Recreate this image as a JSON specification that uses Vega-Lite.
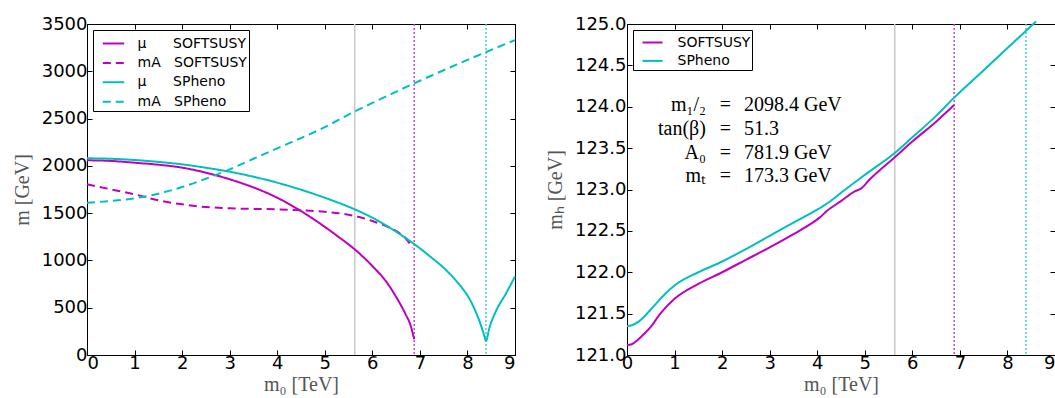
{
  "$schema": "https://vega.github.io/schema/vega-lite/v6.json",
  "padding": {"left": 11, "top": 14, "right": 1, "bottom": 0},
  "background": "white",
  "spacing": 24,
  "config": {
    "view": {"stroke": "black", "strokeWidth": 1},
    "axis": {
      "labelFont": "DejaVu Sans", "labelFontSize": 18, "labelColor": "black",
      "tickColor": "black", "tickSize": -5, "domain": false, "grid": false,
      "titleFont": "Liberation Serif", "titleFontSize": 20, "titleColor": "#555555",
      "titleFontWeight": "normal"
    },
    "line": {"interpolate": "monotone", "strokeWidth": 2, "clip": true},
    "legend": {
      "orient": "top-left", "offset": 6, "title": null, "fillColor": "white",
      "strokeColor": "black", "padding": 1.5, "cornerRadius": 0,
      "labelFont": "DejaVu Sans", "labelFontSize": 14, "labelColor": "black",
      "symbolType": "stroke", "symbolStrokeWidth": 2, "symbolOffset": 7,
      "rowPadding": 0.4
    }
  },
  "datasets": {
    "left": [
      {"m0": 0, "m": 2059, "s": "μ\u00a0\u00a0\u00a0\u00a0\u00a0\u00a0SOFTSUSY\u00a0"},
      {"m0": 0.5, "m": 2052, "s": "μ\u00a0\u00a0\u00a0\u00a0\u00a0\u00a0SOFTSUSY\u00a0"},
      {"m0": 1, "m": 2033, "s": "μ\u00a0\u00a0\u00a0\u00a0\u00a0\u00a0SOFTSUSY\u00a0"},
      {"m0": 1.5, "m": 2012, "s": "μ\u00a0\u00a0\u00a0\u00a0\u00a0\u00a0SOFTSUSY\u00a0"},
      {"m0": 2, "m": 1981, "s": "μ\u00a0\u00a0\u00a0\u00a0\u00a0\u00a0SOFTSUSY\u00a0"},
      {"m0": 2.5, "m": 1928, "s": "μ\u00a0\u00a0\u00a0\u00a0\u00a0\u00a0SOFTSUSY\u00a0"},
      {"m0": 3, "m": 1858, "s": "μ\u00a0\u00a0\u00a0\u00a0\u00a0\u00a0SOFTSUSY\u00a0"},
      {"m0": 3.5, "m": 1772, "s": "μ\u00a0\u00a0\u00a0\u00a0\u00a0\u00a0SOFTSUSY\u00a0"},
      {"m0": 4, "m": 1663, "s": "μ\u00a0\u00a0\u00a0\u00a0\u00a0\u00a0SOFTSUSY\u00a0"},
      {"m0": 4.5, "m": 1522, "s": "μ\u00a0\u00a0\u00a0\u00a0\u00a0\u00a0SOFTSUSY\u00a0"},
      {"m0": 5, "m": 1355, "s": "μ\u00a0\u00a0\u00a0\u00a0\u00a0\u00a0SOFTSUSY\u00a0"},
      {"m0": 5.3, "m": 1245, "s": "μ\u00a0\u00a0\u00a0\u00a0\u00a0\u00a0SOFTSUSY\u00a0"},
      {"m0": 5.63, "m": 1117, "s": "μ\u00a0\u00a0\u00a0\u00a0\u00a0\u00a0SOFTSUSY\u00a0"},
      {"m0": 6, "m": 941, "s": "μ\u00a0\u00a0\u00a0\u00a0\u00a0\u00a0SOFTSUSY\u00a0"},
      {"m0": 6.3, "m": 770, "s": "μ\u00a0\u00a0\u00a0\u00a0\u00a0\u00a0SOFTSUSY\u00a0"},
      {"m0": 6.5, "m": 615, "s": "μ\u00a0\u00a0\u00a0\u00a0\u00a0\u00a0SOFTSUSY\u00a0"},
      {"m0": 6.7, "m": 430, "s": "μ\u00a0\u00a0\u00a0\u00a0\u00a0\u00a0SOFTSUSY\u00a0"},
      {"m0": 6.8, "m": 320, "s": "μ\u00a0\u00a0\u00a0\u00a0\u00a0\u00a0SOFTSUSY\u00a0"},
      {"m0": 6.88, "m": 166, "s": "μ\u00a0\u00a0\u00a0\u00a0\u00a0\u00a0SOFTSUSY\u00a0"},
      {"m0": 0, "m": 1805, "s": "mA\u00a0\u00a0\u00a0SOFTSUSY\u00a0"},
      {"m0": 0.5, "m": 1752, "s": "mA\u00a0\u00a0\u00a0SOFTSUSY\u00a0"},
      {"m0": 1, "m": 1699, "s": "mA\u00a0\u00a0\u00a0SOFTSUSY\u00a0"},
      {"m0": 1.5, "m": 1636, "s": "mA\u00a0\u00a0\u00a0SOFTSUSY\u00a0"},
      {"m0": 2, "m": 1593, "s": "mA\u00a0\u00a0\u00a0SOFTSUSY\u00a0"},
      {"m0": 2.5, "m": 1565, "s": "mA\u00a0\u00a0\u00a0SOFTSUSY\u00a0"},
      {"m0": 3, "m": 1551, "s": "mA\u00a0\u00a0\u00a0SOFTSUSY\u00a0"},
      {"m0": 3.5, "m": 1545, "s": "mA\u00a0\u00a0\u00a0SOFTSUSY\u00a0"},
      {"m0": 4, "m": 1540, "s": "mA\u00a0\u00a0\u00a0SOFTSUSY\u00a0"},
      {"m0": 4.5, "m": 1530, "s": "mA\u00a0\u00a0\u00a0SOFTSUSY\u00a0"},
      {"m0": 5, "m": 1515, "s": "mA\u00a0\u00a0\u00a0SOFTSUSY\u00a0"},
      {"m0": 5.63, "m": 1470, "s": "mA\u00a0\u00a0\u00a0SOFTSUSY\u00a0"},
      {"m0": 6, "m": 1417, "s": "mA\u00a0\u00a0\u00a0SOFTSUSY\u00a0"},
      {"m0": 6.3, "m": 1360, "s": "mA\u00a0\u00a0\u00a0SOFTSUSY\u00a0"},
      {"m0": 6.5, "m": 1311, "s": "mA\u00a0\u00a0\u00a0SOFTSUSY\u00a0"},
      {"m0": 6.7, "m": 1234, "s": "mA\u00a0\u00a0\u00a0SOFTSUSY\u00a0"},
      {"m0": 6.85, "m": 1135, "s": "mA\u00a0\u00a0\u00a0SOFTSUSY\u00a0"},
      {"m0": 0, "m": 2080, "s": "μ\u00a0\u00a0\u00a0\u00a0\u00a0\u00a0SPheno"},
      {"m0": 0.5, "m": 2075, "s": "μ\u00a0\u00a0\u00a0\u00a0\u00a0\u00a0SPheno"},
      {"m0": 1, "m": 2062, "s": "μ\u00a0\u00a0\u00a0\u00a0\u00a0\u00a0SPheno"},
      {"m0": 1.5, "m": 2042, "s": "μ\u00a0\u00a0\u00a0\u00a0\u00a0\u00a0SPheno"},
      {"m0": 2, "m": 2016, "s": "μ\u00a0\u00a0\u00a0\u00a0\u00a0\u00a0SPheno"},
      {"m0": 2.5, "m": 1980, "s": "μ\u00a0\u00a0\u00a0\u00a0\u00a0\u00a0SPheno"},
      {"m0": 3, "m": 1938, "s": "μ\u00a0\u00a0\u00a0\u00a0\u00a0\u00a0SPheno"},
      {"m0": 3.5, "m": 1885, "s": "μ\u00a0\u00a0\u00a0\u00a0\u00a0\u00a0SPheno"},
      {"m0": 4, "m": 1822, "s": "μ\u00a0\u00a0\u00a0\u00a0\u00a0\u00a0SPheno"},
      {"m0": 4.5, "m": 1748, "s": "μ\u00a0\u00a0\u00a0\u00a0\u00a0\u00a0SPheno"},
      {"m0": 5, "m": 1663, "s": "μ\u00a0\u00a0\u00a0\u00a0\u00a0\u00a0SPheno"},
      {"m0": 5.63, "m": 1540, "s": "μ\u00a0\u00a0\u00a0\u00a0\u00a0\u00a0SPheno"},
      {"m0": 6, "m": 1452, "s": "μ\u00a0\u00a0\u00a0\u00a0\u00a0\u00a0SPheno"},
      {"m0": 6.5, "m": 1304, "s": "μ\u00a0\u00a0\u00a0\u00a0\u00a0\u00a0SPheno"},
      {"m0": 6.84, "m": 1188, "s": "μ\u00a0\u00a0\u00a0\u00a0\u00a0\u00a0SPheno"},
      {"m0": 7, "m": 1128, "s": "μ\u00a0\u00a0\u00a0\u00a0\u00a0\u00a0SPheno"},
      {"m0": 7.2, "m": 1048, "s": "μ\u00a0\u00a0\u00a0\u00a0\u00a0\u00a0SPheno"},
      {"m0": 7.55, "m": 898, "s": "μ\u00a0\u00a0\u00a0\u00a0\u00a0\u00a0SPheno"},
      {"m0": 7.9, "m": 700, "s": "μ\u00a0\u00a0\u00a0\u00a0\u00a0\u00a0SPheno"},
      {"m0": 8.0, "m": 630, "s": "μ\u00a0\u00a0\u00a0\u00a0\u00a0\u00a0SPheno"},
      {"m0": 8.18, "m": 450, "s": "μ\u00a0\u00a0\u00a0\u00a0\u00a0\u00a0SPheno"},
      {"m0": 8.28, "m": 320, "s": "μ\u00a0\u00a0\u00a0\u00a0\u00a0\u00a0SPheno"},
      {"m0": 8.35, "m": 210, "s": "μ\u00a0\u00a0\u00a0\u00a0\u00a0\u00a0SPheno"},
      {"m0": 8.39, "m": 150, "s": "μ\u00a0\u00a0\u00a0\u00a0\u00a0\u00a0SPheno"},
      {"m0": 8.46, "m": 285, "s": "μ\u00a0\u00a0\u00a0\u00a0\u00a0\u00a0SPheno"},
      {"m0": 8.6, "m": 465, "s": "μ\u00a0\u00a0\u00a0\u00a0\u00a0\u00a0SPheno"},
      {"m0": 8.81, "m": 650, "s": "μ\u00a0\u00a0\u00a0\u00a0\u00a0\u00a0SPheno"},
      {"m0": 9, "m": 830, "s": "μ\u00a0\u00a0\u00a0\u00a0\u00a0\u00a0SPheno"},
      {"m0": 0, "m": 1611, "s": "mA\u00a0\u00a0\u00a0SPheno"},
      {"m0": 0.5, "m": 1628, "s": "mA\u00a0\u00a0\u00a0SPheno"},
      {"m0": 1, "m": 1657, "s": "mA\u00a0\u00a0\u00a0SPheno"},
      {"m0": 1.5, "m": 1706, "s": "mA\u00a0\u00a0\u00a0SPheno"},
      {"m0": 2, "m": 1776, "s": "mA\u00a0\u00a0\u00a0SPheno"},
      {"m0": 2.5, "m": 1864, "s": "mA\u00a0\u00a0\u00a0SPheno"},
      {"m0": 3, "m": 1963, "s": "mA\u00a0\u00a0\u00a0SPheno"},
      {"m0": 3.5, "m": 2075, "s": "mA\u00a0\u00a0\u00a0SPheno"},
      {"m0": 4, "m": 2185, "s": "mA\u00a0\u00a0\u00a0SPheno"},
      {"m0": 5, "m": 2410, "s": "mA\u00a0\u00a0\u00a0SPheno"},
      {"m0": 5.63, "m": 2575, "s": "mA\u00a0\u00a0\u00a0SPheno"},
      {"m0": 6, "m": 2665, "s": "mA\u00a0\u00a0\u00a0SPheno"},
      {"m0": 7, "m": 2900, "s": "mA\u00a0\u00a0\u00a0SPheno"},
      {"m0": 8, "m": 3120, "s": "mA\u00a0\u00a0\u00a0SPheno"},
      {"m0": 9, "m": 3330, "s": "mA\u00a0\u00a0\u00a0SPheno"}
    ],
    "right": [
      {"m0": 0, "mh": 121.12, "code": "SOFTSUSY\u00a0"},
      {"m0": 0.1, "mh": 121.13, "code": "SOFTSUSY\u00a0"},
      {"m0": 0.2, "mh": 121.17, "code": "SOFTSUSY\u00a0"},
      {"m0": 0.35, "mh": 121.25, "code": "SOFTSUSY\u00a0"},
      {"m0": 0.5, "mh": 121.34, "code": "SOFTSUSY\u00a0"},
      {"m0": 0.7, "mh": 121.5, "code": "SOFTSUSY\u00a0"},
      {"m0": 1, "mh": 121.68, "code": "SOFTSUSY\u00a0"},
      {"m0": 1.5, "mh": 121.86, "code": "SOFTSUSY\u00a0"},
      {"m0": 2, "mh": 122.0, "code": "SOFTSUSY\u00a0"},
      {"m0": 2.5, "mh": 122.15, "code": "SOFTSUSY\u00a0"},
      {"m0": 3, "mh": 122.3, "code": "SOFTSUSY\u00a0"},
      {"m0": 3.5, "mh": 122.46, "code": "SOFTSUSY\u00a0"},
      {"m0": 3.98, "mh": 122.63, "code": "SOFTSUSY\u00a0"},
      {"m0": 4.05, "mh": 122.66, "code": "SOFTSUSY\u00a0"},
      {"m0": 4.2, "mh": 122.74, "code": "SOFTSUSY\u00a0"},
      {"m0": 4.5, "mh": 122.86, "code": "SOFTSUSY\u00a0"},
      {"m0": 4.8, "mh": 122.98, "code": "SOFTSUSY\u00a0"},
      {"m0": 4.92, "mh": 123.01, "code": "SOFTSUSY\u00a0"},
      {"m0": 5.1, "mh": 123.12, "code": "SOFTSUSY\u00a0"},
      {"m0": 5.63, "mh": 123.39, "code": "SOFTSUSY\u00a0"},
      {"m0": 6, "mh": 123.58, "code": "SOFTSUSY\u00a0"},
      {"m0": 6.5, "mh": 123.82, "code": "SOFTSUSY\u00a0"},
      {"m0": 6.88, "mh": 124.02, "code": "SOFTSUSY\u00a0"},
      {"m0": 0, "mh": 121.35, "code": "SPheno"},
      {"m0": 0.1, "mh": 121.36, "code": "SPheno"},
      {"m0": 0.26, "mh": 121.41, "code": "SPheno"},
      {"m0": 0.5, "mh": 121.55, "code": "SPheno"},
      {"m0": 0.82, "mh": 121.75, "code": "SPheno"},
      {"m0": 1, "mh": 121.84, "code": "SPheno"},
      {"m0": 1.5, "mh": 122.0, "code": "SPheno"},
      {"m0": 2, "mh": 122.13, "code": "SPheno"},
      {"m0": 2.5, "mh": 122.28, "code": "SPheno"},
      {"m0": 3, "mh": 122.44, "code": "SPheno"},
      {"m0": 3.5, "mh": 122.6, "code": "SPheno"},
      {"m0": 3.98, "mh": 122.75, "code": "SPheno"},
      {"m0": 4.23, "mh": 122.84, "code": "SPheno"},
      {"m0": 4.5, "mh": 122.96, "code": "SPheno"},
      {"m0": 4.96, "mh": 123.16, "code": "SPheno"},
      {"m0": 5.63, "mh": 123.44, "code": "SPheno"},
      {"m0": 6, "mh": 123.63, "code": "SPheno"},
      {"m0": 6.5, "mh": 123.89, "code": "SPheno"},
      {"m0": 6.88, "mh": 124.11, "code": "SPheno"},
      {"m0": 7.5, "mh": 124.44, "code": "SPheno"},
      {"m0": 8, "mh": 124.71, "code": "SPheno"},
      {"m0": 8.6, "mh": 125.03, "code": "SPheno"}
    ],
    "limits": [
      {"code": "lower", "m0": 5.63},
      {"code": "SOFTSUSY", "m0": 6.88},
      {"code": "SPheno", "m0": 8.39}
    ],
    "params": [
      {"lhs": "m₁/₂", "rhs": "2098.4 GeV", "mh": 124.02},
      {"lhs": "tan(β)", "rhs": "51.3", "mh": 123.73},
      {"lhs": "A₀", "rhs": "781.9 GeV", "mh": 123.44},
      {"lhs": "mₜ", "rhs": "173.3 GeV", "mh": 123.16}
    ]
  },
  "hconcat": [
    {
      "width": 428,
      "height": 331,
      "layer": [
        {
          "data": {"name": "limits"},
          "transform": [{"filter": "datum.code === 'lower'"}],
          "mark": {"type": "rule", "color": "#c8c8c8", "strokeWidth": 1.5},
          "encoding": {"x": {"field": "m0", "type": "quantitative", "axis": null}}
        },
        {
          "data": {"name": "limits"},
          "transform": [{"filter": "datum.code === 'SOFTSUSY'"}],
          "mark": {"type": "rule", "color": "#cc44cc", "strokeWidth": 1.5, "strokeDash": [2, 2]},
          "encoding": {"x": {"field": "m0", "type": "quantitative", "axis": null}}
        },
        {
          "data": {"name": "limits"},
          "transform": [{"filter": "datum.code === 'SPheno'"}],
          "mark": {"type": "rule", "color": "#44cccc", "strokeWidth": 1.5, "strokeDash": [2, 2]},
          "encoding": {"x": {"field": "m0", "type": "quantitative", "axis": null}}
        },
        {
          "data": {"name": "left"},
          "transform": [{"filter": "indexof(datum.s, 'SOFTSUSY') >= 0"}],
          "mark": {"type": "line"},
          "encoding": {
            "x": {"field": "m0", "type": "quantitative", "scale": {"domain": [0, 9], "nice": false, "zero": false},
                  "axis": {"orient": "bottom", "values": [0,1,2,3,4,5,6,7,8,9], "format": "d", "labelPadding": 4, "title": "m₀ [TeV]", "titlePadding": 2}},
            "y": {"field": "m", "type": "quantitative", "scale": {"domain": [0, 3500], "nice": false},
                  "axis": {"orient": "left", "values": [0,500,1000,1500,2000,2500,3000,3500], "format": "d", "labelPadding": 5, "minExtent": 52, "maxExtent": 52, "title": "m [GeV]", "titlePadding": 3}},
            "color": {"field": "s", "type": "nominal",
                      "scale": {"domain": ["μ\u00a0\u00a0\u00a0\u00a0\u00a0\u00a0SOFTSUSY\u00a0", "mA\u00a0\u00a0\u00a0SOFTSUSY\u00a0", "μ\u00a0\u00a0\u00a0\u00a0\u00a0\u00a0SPheno", "mA\u00a0\u00a0\u00a0SPheno"], "range": ["#bf00bf", "#bf00bf", "#00bfbf", "#00bfbf"]},
                      "legend": {"symbolSize": 458, "labelOffset": 12}},
            "strokeDash": {"field": "s", "type": "nominal",
                      "scale": {"domain": ["μ\u00a0\u00a0\u00a0\u00a0\u00a0\u00a0SOFTSUSY\u00a0", "mA\u00a0\u00a0\u00a0SOFTSUSY\u00a0", "μ\u00a0\u00a0\u00a0\u00a0\u00a0\u00a0SPheno", "mA\u00a0\u00a0\u00a0SPheno"], "range": [[1, 0], [8, 5], [1, 0], [8, 5]]},
                      "legend": {"symbolSize": 458, "labelOffset": 12}}
          }
        },
        {
          "data": {"name": "left"},
          "transform": [{"filter": "indexof(datum.s, 'SPheno') >= 0"}],
          "mark": {"type": "line"},
          "encoding": {
            "x": {"field": "m0", "type": "quantitative",
                  "axis": {"orient": "top", "values": [0,1,2,3,4,5,6,7,8,9], "labels": false, "title": null}},
            "y": {"field": "m", "type": "quantitative",
                  "axis": {"orient": "right", "values": [0,500,1000,1500,2000,2500,3000,3500], "labels": false, "title": null}},
            "color": {"field": "s", "type": "nominal"},
            "strokeDash": {"field": "s", "type": "nominal"}
          }
        }
      ],
      "resolve": {"axis": {"x": "independent", "y": "independent"}}
    },
    {
      "width": 428,
      "height": 331,
      "layer": [
        {
          "data": {"name": "limits"},
          "transform": [{"filter": "datum.code === 'lower'"}],
          "mark": {"type": "rule", "color": "#c8c8c8", "strokeWidth": 1.5},
          "encoding": {"x": {"field": "m0", "type": "quantitative", "axis": null}}
        },
        {
          "data": {"name": "limits"},
          "transform": [{"filter": "datum.code === 'SOFTSUSY'"}],
          "mark": {"type": "rule", "color": "#cc44cc", "strokeWidth": 1.5, "strokeDash": [2, 2]},
          "encoding": {"x": {"field": "m0", "type": "quantitative", "axis": null}}
        },
        {
          "data": {"name": "limits"},
          "transform": [{"filter": "datum.code === 'SPheno'"}],
          "mark": {"type": "rule", "color": "#44cccc", "strokeWidth": 1.5, "strokeDash": [2, 2]},
          "encoding": {"x": {"field": "m0", "type": "quantitative", "axis": null}}
        },
        {
          "data": {"name": "params"},
          "mark": {"type": "text", "align": "right", "baseline": "middle", "font": "Liberation Serif", "fontSize": 20, "color": "black"},
          "encoding": {
            "x": {"datum": 1.66, "type": "quantitative", "axis": null},
            "y": {"field": "mh", "type": "quantitative", "axis": null},
            "text": {"field": "lhs"}
          }
        },
        {
          "data": {"name": "params"},
          "mark": {"type": "text", "align": "center", "baseline": "middle", "font": "Liberation Serif", "fontSize": 20, "color": "black", "text": "="},
          "encoding": {
            "x": {"datum": 2.07, "type": "quantitative", "axis": null},
            "y": {"field": "mh", "type": "quantitative", "axis": null}
          }
        },
        {
          "data": {"name": "params"},
          "mark": {"type": "text", "align": "left", "baseline": "middle", "font": "Liberation Serif", "fontSize": 20, "color": "black"},
          "encoding": {
            "x": {"datum": 2.46, "type": "quantitative", "axis": null},
            "y": {"field": "mh", "type": "quantitative", "axis": null},
            "text": {"field": "rhs"}
          }
        },
        {
          "data": {"name": "right"},
          "transform": [{"filter": "indexof(datum.code, 'SOFTSUSY') >= 0"}],
          "mark": {"type": "line"},
          "encoding": {
            "x": {"field": "m0", "type": "quantitative", "scale": {"domain": [0, 9], "nice": false, "zero": false},
                  "axis": {"orient": "bottom", "values": [0,1,2,3,4,5,6,7,8,9], "format": "d", "labelPadding": 4, "title": "m₀ [TeV]", "titlePadding": 2,
                           "labelAlign": {"condition": {"test": "datum.value === 9", "value": "right"}, "value": "center"}}},
            "y": {"field": "mh", "type": "quantitative", "scale": {"domain": [121, 125], "nice": false, "zero": false},
                  "axis": {"orient": "left", "values": [121,121.5,122,122.5,123,123.5,124,124.5,125], "format": ".1f", "labelPadding": 6, "minExtent": 57, "maxExtent": 57, "title": "mₕ [GeV]", "titlePadding": 5}},
            "color": {"field": "code", "type": "nominal",
                      "scale": {"domain": ["SOFTSUSY\u00a0", "SPheno"], "range": ["#bf00bf", "#00bfbf"]},
                      "legend": {"labelOffset": 14, "symbolSize": 400}}
          }
        },
        {
          "data": {"name": "right"},
          "transform": [{"filter": "datum.code === 'SPheno'"}],
          "mark": {"type": "line"},
          "encoding": {
            "x": {"field": "m0", "type": "quantitative",
                  "axis": {"orient": "top", "values": [0,1,2,3,4,5,6,7,8,9], "labels": false, "title": null}},
            "y": {"field": "mh", "type": "quantitative",
                  "axis": {"orient": "right", "values": [121,121.5,122,122.5,123,123.5,124,124.5,125], "labels": false, "title": null}},
            "color": {"field": "code", "type": "nominal"}
          }
        }
      ],
      "resolve": {"axis": {"x": "independent", "y": "independent"}}
    }
  ],
  "resolve": {"scale": {"color": "independent", "strokeDash": "independent"}}
}
